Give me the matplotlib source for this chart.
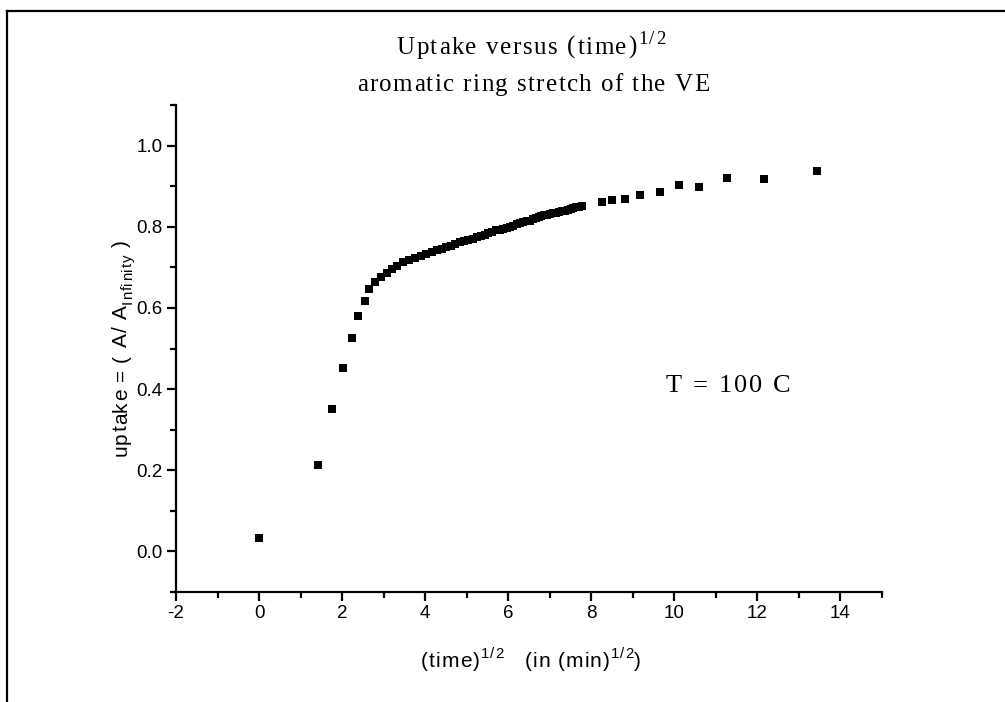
import matplotlib
matplotlib.use("Agg")
import matplotlib.pyplot as plt
from matplotlib.lines import Line2D
from matplotlib.ticker import MultipleLocator

plt.rcParams['font.family'] = ['Liberation Sans', 'DejaVu Sans']

# sqrt(time) values
sqrt_time = [0.00, 1.42, 1.76, 2.02, 2.23, 2.39, 2.54, 2.65, 2.80, 2.94,
             3.08, 3.20, 3.33, 3.47, 3.61, 3.76, 3.90, 4.03, 4.16, 4.28,
             4.40, 4.51, 4.62, 4.73, 4.84, 4.94, 5.04, 5.14, 5.24, 5.34,
             5.43, 5.52, 5.61, 5.70, 5.79, 5.88, 5.96, 6.04, 6.12, 6.20,
             6.28, 6.36, 6.44, 6.52, 6.59, 6.66, 6.73, 6.80, 6.87, 6.94,
             7.01, 7.08, 7.15, 7.22, 7.29, 7.36, 7.43, 7.50, 7.57, 7.64,
             7.71, 7.78, 8.26, 8.51, 8.82, 9.17, 9.65, 10.10, 10.60, 11.27,
             12.17, 13.43]
uptake = [0.033, 0.213, 0.352, 0.452, 0.527, 0.580, 0.618, 0.646, 0.663, 0.676,
          0.686, 0.697, 0.703, 0.712, 0.719, 0.724, 0.729, 0.733, 0.737, 0.742,
          0.746, 0.749, 0.753, 0.757, 0.762, 0.765, 0.768, 0.771, 0.774, 0.777,
          0.780, 0.784, 0.788, 0.791, 0.793, 0.795, 0.797, 0.800, 0.802, 0.806,
          0.809, 0.811, 0.813, 0.815, 0.818, 0.821, 0.823, 0.826, 0.828, 0.830,
          0.831, 0.833, 0.834, 0.836, 0.838, 0.839, 0.841, 0.843, 0.846, 0.848,
          0.849, 0.851, 0.861, 0.866, 0.869, 0.879, 0.885, 0.902, 0.898, 0.920,
          0.918, 0.937]

x_ticks = [-2, 0, 2, 4, 6, 8, 10, 12, 14]
y_ticks = [0.0, 0.2, 0.4, 0.6, 0.8, 1.0]

W, H = 1005, 702
fig = plt.figure(figsize=(W / 100, H / 100), dpi=100)
ax = fig.add_axes([176 / W, 1 - 592 / H, (882 - 176) / W, (592 - 105) / H])

ax.plot(sqrt_time, uptake, linestyle='none', marker='s', markersize=5.5,
        color='black', markeredgewidth=0)

ax.set_xlim(-2, 15)
ax.set_ylim(-0.1, 1.1)
ax.set_xticks(x_ticks)
ax.set_xticklabels([str(v) for v in x_ticks])
ax.set_yticks(y_ticks)
ax.set_yticklabels([f"{v:.1f}" for v in y_ticks])
ax.xaxis.set_minor_locator(MultipleLocator(1))
ax.yaxis.set_minor_locator(MultipleLocator(0.1))

for s in ['top', 'right']:
    ax.spines[s].set_visible(False)
for s in ['left', 'bottom']:
    ax.spines[s].set_linewidth(1.6)

ax.tick_params(which='major', direction='out', length=6.5, width=1.6,
               labelsize=13.5, pad=3)
ax.tick_params(which='minor', direction='out', length=4.5, width=1.6)

renderer = fig.canvas.get_renderer()


def char_width(ch, size, family):
    t1 = fig.text(0, 0, "|" + ch + "|", fontsize=size, family=family)
    t2 = fig.text(0, 0, "||", fontsize=size, family=family)
    w = t1.get_window_extent(renderer).width - t2.get_window_extent(renderer).width
    t1.remove()
    t2.remove()
    return w


def tracked_text(cx, cy, segments, size, family, track, vertical=False):
    """Draw letter-spaced text centred at pixel (cx, cy) where cy is the
    baseline (horizontal) or cx is the baseline (vertical)."""
    items = []
    for text, scale, shift in segments:
        for ch in text:
            items.append((ch, scale, shift, char_width(ch, size * scale, family)))
    total = sum(it[3] for it in items) + track * (len(items) - 1)
    pos = -total / 2
    px_per_pt = 100 / 72
    for ch, scale, shift, w in items:
        off = shift * size * px_per_pt
        if not vertical:
            x, y = cx + pos, cy - off
            fig.text(x / W, 1 - y / H, ch, fontsize=size * scale, family=family,
                     ha='left', va='baseline')
        else:
            x, y = cx - off, cy - pos
            fig.text(x / W, 1 - y / H, ch, fontsize=size * scale, family=family,
                     ha='left', va='baseline', rotation=90, rotation_mode='anchor')
        pos += w + track


serif = ['Liberation Serif', 'DejaVu Serif']
sans = ['Liberation Sans', 'DejaVu Sans']

tracked_text(531, 54, [("Uptake versus (time)", 1, 0), ("1/2", 0.75, 0.42)],
             18, serif, 1.6)
tracked_text(533, 91, [("aromatic ring stretch of the VE", 1, 0)], 18, serif, 1.4)
tracked_text(728, 392, [("T = 100 C", 1, 0)], 19, serif, 2.2)

tracked_text(531, 667, [("(time)", 1, 0), ("1/2", 0.72, 0.42),
                        ("   (in (min)", 1, 0), ("1/2", 0.72, 0.42), (")", 1, 0)],
             15, sans, 1.0)
tracked_text(127, 348, [("uptake = ( A/ A", 1, 0), ("Infinity", 0.72, -0.22),
                        (" )", 1, 0)], 15, sans, 0.9, vertical=True)

# page frame (left and top edges)
fig.add_artist(Line2D([7 / W, 7 / W], [0, 1 - 11 / H], transform=fig.transFigure,
                      color='black', linewidth=1.6))
fig.add_artist(Line2D([7 / W, 1], [1 - 11 / H, 1 - 11 / H], transform=fig.transFigure,
                      color='black', linewidth=1.6))

fig.savefig("out.png", dpi=100)
